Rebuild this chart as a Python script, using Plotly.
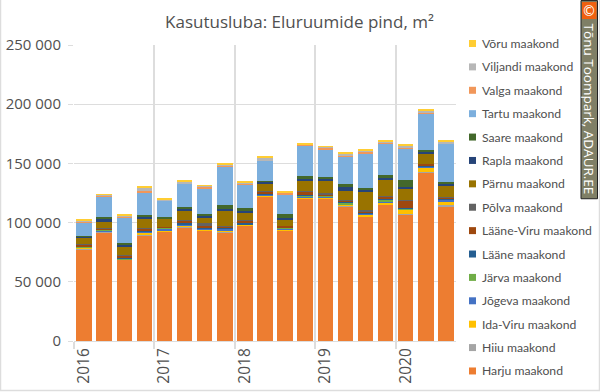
import plotly.graph_objects as go

periods = ["2016 Q1","2016 Q2","2016 Q3","2016 Q4","2017 Q1","2017 Q2","2017 Q3","2017 Q4",
           "2018 Q1","2018 Q2","2018 Q3","2018 Q4","2019 Q1","2019 Q2","2019 Q3","2019 Q4",
           "2020 Q1","2020 Q2","2020 Q3"]
year_labels = ["2016","2017","2018","2019","2020"]

harju      = [77.5,91.8,68.5,89.5,92.1,95.5,93.0,91.8,97.4,121.9,93.5,120.2,120.0,113.5,105.0,115.0,106.6,142.6,113.4]
hiiu       = [0.3,0.6,0.2,0.3,0.3,0.8,0.3,0.3,0.3,0.5,0.2,0.3,0.2,0.2,0.3,0.2,0.8,0.2,1.1]
ida_viru   = [1.2,0.2,0.2,2.0,0.8,1.2,0.9,0.8,0.6,0.5,0.6,0.5,1.0,1.7,1.2,2.0,3.4,3.4,3.4]
jogeva     = [0.3,0.4,0.3,0.7,2.0,0.6,0.5,1.8,0.2,0.5,0.5,1.2,0.8,0.3,0.9,0.2,0.4,1.2,1.6]
jarva      = [0.2,0.8,0.2,0.3,0.3,0.2,0.1,0.2,0.2,0.2,0.8,0.3,0.6,1.0,0.3,2.0,1.0,0.2,0.2]
laane      = [0.3,0.2,1.0,0.4,0.7,1.2,0.3,1.0,0.7,0.4,0.3,1.0,0.6,0.3,0.5,0.3,0.4,0.3,0.6]
laane_viru = [1.7,1.2,1.5,2.2,0.3,2.0,2.2,1.0,2.2,2.0,1.4,2.8,0.6,2.0,0.8,2.5,6.2,1.7,0.6]
polva      = [0.5,0.6,0.5,0.3,0.2,0.3,2.2,0.3,0.3,0.3,0.2,0.5,1.4,0.5,2.0,0.3,0.3,0.2,1.1]
parnu      = [5.0,4.8,7.0,7.6,6.5,7.9,5.0,13.2,7.0,6.7,5.0,8.4,9.6,7.6,14.6,13.5,9.0,8.4,9.3]
rapla      = [1.0,2.2,1.8,1.4,0.3,2.2,1.1,1.4,0.5,1.7,1.4,1.7,1.7,3.0,1.7,1.4,2.2,1.7,1.4]
saare      = [1.0,1.7,1.5,1.7,1.2,1.1,1.7,3.0,2.8,0.8,3.6,2.8,2.2,2.8,2.2,2.8,5.9,1.7,2.0]
tartu      = [10.7,17.7,22.0,18.8,13.8,20.0,21.6,32.5,20.0,16.6,16.3,25.6,23.0,23.3,29.0,26.5,26.1,30.6,31.8]
valga      = [1.5,1.1,0.2,1.5,0.3,0.3,1.4,0.8,0.5,0.3,1.4,0.3,1.4,0.3,1.4,0.8,1.4,0.6,0.3]
viljandi   = [0.4,0.2,1.4,3.0,0.3,1.4,0.8,0.5,0.8,2.5,0.1,0.3,1.0,1.7,1.4,1.4,1.4,1.7,1.4]
voru       = [1.0,0.2,0.8,0.7,1.4,1.1,0.5,1.7,1.0,0.8,1.0,1.4,0.5,0.8,1.1,1.0,1.0,1.0,0.8]

series_names = ["Harju maakond","Hiiu maakond","Ida-Viru maakond","Jõgeva maakond","Järva maakond",
                "Lääne maakond","Lääne-Viru maakond","Põlva maakond","Pärnu maakond","Rapla maakond",
                "Saare maakond","Tartu maakond","Valga maakond","Viljandi maakond","Võru maakond"]
series_values = [harju,hiiu,ida_viru,jogeva,jarva,laane,laane_viru,polva,parnu,rapla,saare,tartu,valga,viljandi,voru]
series_colors = ["#ED7D31","#A5A5A5","#FFC000","#4472C4","#70AD47","#255E91","#9E480E","#636363",
                 "#997300","#264478","#43682B","#7CAFDD","#F1975A","#B7B7B7","#FFCD33"]

GRID = "#DDDDDD"
TEXT = "#505050"
W, H = 600, 392
L, R, T, B = 74, 456, 45, 341.5

x_idx = list(range(len(periods)))
fig = go.Figure()
for name, vals, col in zip(series_names, series_values, series_colors):
    fig.add_trace(go.Bar(x=x_idx, y=[v * 1000 for v in vals], name=name, marker_color=col,
                         marker_line_width=0, width=0.77, customdata=periods,
                         hovertemplate="%{customdata}: %{y}<extra>" + name + "</extra>"))

px = lambda v: (v - L) / (R - L)
py = lambda v: (B - v) / (B - T)

shapes = []
annotations = []

for i, (name, col) in enumerate(zip(reversed(series_names), reversed(series_colors))):
    ypx = 43.5 + i * 23.43
    shapes.append(dict(type="rect", xref="paper", yref="paper",
                       x0=px(469), x1=px(476), y0=py(ypx + 3.5), y1=py(ypx - 3.5),
                       fillcolor=col, line_width=0))
    annotations.append(dict(text=name, xref="paper", yref="paper",
                            x=px(479.5), y=py(ypx), xanchor="left", yanchor="middle", showarrow=False,
                            font=dict(family="Lato", size=12.2, color=TEXT)))

shapes.append(dict(type="rect", xref="paper", yref="paper", x0=px(0.5), x1=px(599.5),
                   y0=py(391), y1=py(-1), line=dict(color=GRID, width=1.5), layer="below"))

shapes.append(dict(type="rect", xref="paper", yref="paper", x0=px(581), x1=px(597.5),
                   y0=py(199), y1=py(0.5), fillcolor="#7F7F66", line=dict(color="#222222", width=1)))
shapes.append(dict(type="rect", xref="paper", yref="paper", x0=px(582), x1=px(596.5),
                   y0=py(19), y1=py(2), fillcolor="#F0600F", line_width=0))
annotations.append(dict(text="©", xref="paper", yref="paper", x=px(589.3), y=py(10.5), xanchor="center", yanchor="middle",
                        showarrow=False, font=dict(family="DejaVu Sans", size=14, color="white")))
annotations.append(dict(text="Tõnu Toompark, ADAUR.EE", xref="paper", yref="paper",
                        x=px(589.3), y=py(109), xanchor="center", yanchor="middle", textangle=90, showarrow=False,
                        font=dict(family="Open Sans", size=13.5, color="white")))

fig.update_layout(
    width=W, height=H, autosize=False, barmode="stack", bargap=0.23,
    margin=dict(l=L, r=W - R, t=T, b=H - B, pad=0),
    paper_bgcolor="white", plot_bgcolor="white", showlegend=False,
    title=dict(text="Kasutusluba: Eluruumide pind, m²", x=299.5 / W, xanchor="center",
               y=1 - 22 / H, yanchor="middle",
               font=dict(family="Open Sans", size=17, color=TEXT)),
    xaxis=dict(range=[-0.5, 18.5], tickmode="array", tickvals=x_idx[::4], ticktext=year_labels,
               tickangle=-90, ticks="", showgrid=False, showline=True, linecolor=GRID, linewidth=1,
               automargin=False, tickfont=dict(family="Open Sans", size=15.5, color=TEXT), zeroline=False,
               minor=dict(tickmode="array", tickvals=[-0.5, 3.5, 7.5, 11.5, 15.5],
                          showgrid=True, gridcolor=GRID, gridwidth=1.5,
                          ticks="outside", ticklen=7, tickcolor=GRID, tickwidth=1.5)),
    yaxis=dict(range=[0, 250000], tickmode="array", tickvals=[0, 50000, 100000, 150000, 200000, 250000],
               ticktext=["0", "50 000", "100 000", "150 000", "200 000", "250 000"],
               showgrid=True, gridcolor=GRID, gridwidth=1, zeroline=False, showline=False,
               automargin=False, ticks="outside", ticklen=5, tickcolor=GRID, ticklabelstandoff=4,
               tickfont=dict(family="Open Sans", size=15, color=TEXT)),
    shapes=shapes, annotations=annotations,
)
fig.write_html("out.html", config={"displayModeBar": False},
               post_script="document.body.style.margin='0';document.documentElement.style.overflow='hidden';")
